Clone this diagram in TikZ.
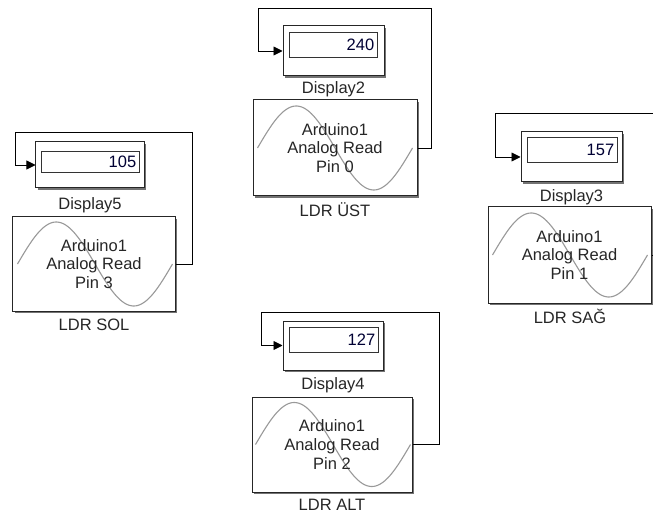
\documentclass[tikz,border=0pt]{standalone}
\usepackage{fontspec}
\setmainfont{Liberation Sans}
\usetikzlibrary{arrows.meta,shadows}
\newcommand\sinewave[2]{\draw[sinecurve] plot[domain=-77.5:77.5,samples=90] ({#1+\x},{#2-42*sin(((\x+77.5)/155)*360)});}
\begin{document}
\begin{tikzpicture}[x=1bp,y=-1bp,
  font=\fontsize{16.5bp}{18.7bp}\selectfont,
  blk/.style={draw=black!85, line width=1bp, fill=white, inner sep=0pt,
    drop shadow={shadow xshift=1.6bp, shadow yshift=-1.6bp, fill=black!55, opacity=1}},
  dispbox/.style={blk},
  valbox/.style={draw=black!80, line width=0.8bp, fill=white, inner sep=0pt},
  sinecurve/.style={draw=black!40, line width=1.1bp},
  conn/.style={draw=black, line width=0.9bp},
  arr/.style={conn, -{Triangle[length=9bp,width=9bp]}},
  lbl/.style={inner sep=0pt, text=black!85},
  val/.style={inner sep=0pt, anchor=east, text=black!80!blue}]
\clip (0,0) rectangle (653,516);
\fill[white] (0,0) rectangle (653,516);

% ---------- LDR UST ----------
\node[blk, minimum width=164bp, minimum height=96bp] (ust) at (335,148) {};
\sinewave{335}{148}
\node[lbl, align=center] (ustT) at (ust.center) {Arduino1\\Analog Read\\Pin 0};
\node[lbl] (ustL) at (335,210) {LDR ÜST};
\node[dispbox, minimum width=101bp, minimum height=50bp] (d2) at (333.5,51) {};
\node[valbox, minimum width=88bp, minimum height=25bp] (d2v) at (333,44.5) {};
\node[val] (d2n) at ([xshift=-3bp]d2v.east) {240};
\node[lbl] (d2l) at (333.5,89) {Display2};
\coordinate (ustA) at (431,8);
\coordinate (ustB) at (258,8);
\draw[arr] (ust.east) -| (ustA) -- (ustB) |- (d2.west);

% ---------- LDR SOL ----------
\node[blk, minimum width=162bp, minimum height=94bp] (sol) at (94,264) {};
\sinewave{95}{264}
\node[lbl, align=center] (solT) at (sol.center) {Arduino1\\Analog Read\\Pin 3};
\node[lbl] (solL) at (94,325) {LDR SOL};
\node[dispbox, minimum width=108bp, minimum height=46bp] (d5) at (90,165) {};
\node[valbox, minimum width=98bp, minimum height=21bp] (d5v) at (90,161.5) {};
\node[val] (d5n) at ([xshift=-3bp]d5v.east) {105};
\node[lbl] (d5l) at (90,205) {Display5};
\coordinate (solA) at (192,132);
\coordinate (solB) at (15,132);
\draw[arr] (sol.east) -| (solA) -- (solB) |- (d5.west);

% ---------- LDR SAG ----------
\node[blk, minimum width=163bp, minimum height=96bp] (sag) at (569.5,255) {};
\sinewave{570}{255}
\node[lbl, align=center] (sagT) at (sag.center) {Arduino1\\Analog Read\\Pin 1};
\node[lbl] (sagL) at (570,316) {LDR SAĞ};
\node[dispbox, minimum width=101bp, minimum height=50bp] (d3) at (571.5,157) {};
\node[valbox, minimum width=90bp, minimum height=25bp] (d3v) at (572,149.5) {};
\node[val] (d3n) at ([xshift=-3bp]d3v.east) {157};
\node[lbl] (d3l) at (571.5,197) {Display3};
\coordinate (sagA) at (668,113);
\coordinate (sagB) at (495,113);
\draw[arr] (sag.east) -| (sagA) -- (sagB) |- (d3.west);

% ---------- LDR ALT ----------
\node[blk, minimum width=160bp, minimum height=95bp] (alt) at (332,444.5) {};
\sinewave{333}{444.5}
\node[lbl, align=center] (altT) at (alt.center) {Arduino1\\Analog Read\\Pin 2};
\node[lbl] (altL) at (332,505) {LDR ALT};
\node[dispbox, minimum width=100bp, minimum height=49bp] (d4) at (333,345.5) {};
\node[valbox, minimum width=89bp, minimum height=25bp] (d4v) at (333.5,339.5) {};
\node[val] (d4n) at ([xshift=-3bp]d4v.east) {127};
\node[lbl] (d4l) at (333,385) {Display4};
\coordinate (altA) at (439,312);
\coordinate (altB) at (261,312);
\draw[arr] (alt.east) -| (altA) -- (altB) |- (d4.west);
\end{tikzpicture}
\end{document}
